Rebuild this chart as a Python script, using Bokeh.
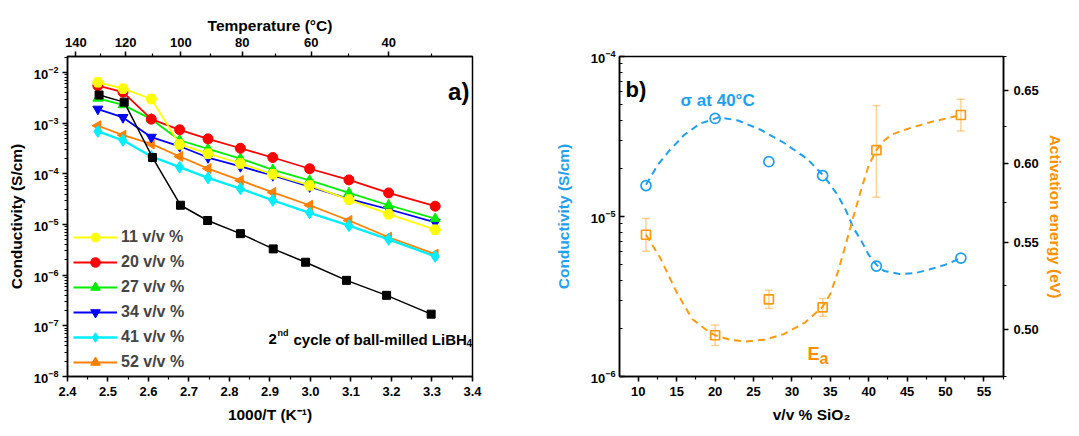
import numpy as np
from bokeh.plotting import figure
from bokeh.layouts import row
from bokeh.models import (Range1d, LinearAxis, FixedTicker, SingleIntervalTicker,
                          PrintfTickFormatter, CustomJSTickFormatter, Label, Legend,
                          LegendItem, Whisker, TeeHead, ColumnDataSource, LogTickFormatter)
from bokeh.embed import file_html
from bokeh.resources import INLINE

FONT = "Liberation Sans"

# ---------------- Panel a) data ----------------
x_a = [2.475, 2.537, 2.607, 2.677, 2.747, 2.827, 2.907, 2.998, 3.095, 3.193, 3.308]
x_black = [2.478, 2.540, 2.610, 2.679, 2.746, 2.827, 2.908, 2.988, 3.089, 3.188, 3.298]
s11 = [6.4e-3, 4.8e-3, 3.0e-3, 3.8e-4, 2.5e-4, 1.6e-4, 9.8e-5, 5.9e-5, 3.1e-5, 1.6e-5, 7.9e-6]
s20 = [5.5e-3, 4.1e-3, 1.2e-3, 7.4e-4, 4.9e-4, 3.2e-4, 2.1e-4, 1.26e-4, 7.6e-5, 4.2e-5, 2.3e-5]
s27 = [3.1e-3, 2.3e-3, 1.2e-3, 4.6e-4, 3.1e-4, 2.0e-4, 1.2e-4, 7.4e-5, 4.2e-5, 2.4e-5, 1.3e-5]
s34 = [1.9e-3, 1.3e-3, 5.3e-4, 3.5e-4, 2.1e-4, 1.4e-4, 9.3e-5, 5.6e-5, 3.2e-5, 2.0e-5, 1.1e-5]
s41 = [6.9e-4, 4.6e-4, 2.2e-4, 1.35e-4, 8.3e-5, 5.1e-5, 3.0e-5, 1.7e-5, 9.5e-6, 5.1e-6, 2.35e-6]
s52 = [8.9e-4, 5.8e-4, 3.9e-4, 2.2e-4, 1.27e-4, 7.4e-5, 4.3e-5, 2.4e-5, 1.2e-5, 5.6e-6, 2.6e-6]
s_libh4 = [3.6e-3, 2.6e-3, 2.1e-4, 2.4e-5, 1.2e-5, 6.6e-6, 3.3e-6, 1.8e-6, 7.9e-7, 4.0e-7, 1.7e-7]
series_labels = ["11 v/v %", "20 v/v %", "27 v/v %", "34 v/v %", "41 v/v %", "52 v/v %"]
temp_major = [140, 120, 100, 80, 60, 40]
temp_minor = [130, 110, 90, 70, 50, 30]

# ---------------- Panel b) data ----------------
ratio = [11, 20, 27, 34, 41, 52]
sigma40 = [1.56e-5, 4.1e-5, 2.2e-5, 1.8e-5, 4.9e-6, 5.5e-6]
Ea = [0.555, 0.497, 0.517, 0.5125, 0.609, 0.633]
Ea_err = [0.010, 0.0056, 0.0052, 0.005, 0.0306, 0.011]
sigma_fit_x = [11, 12.5, 14, 16, 18, 20.5, 23, 26, 29, 32, 34, 35, 36, 37, 38, 39, 40, 41,
               42, 44, 46, 48, 50, 52]
sigma_fit = [1.58e-5, 2.09e-5, 2.57e-5, 3.24e-5, 3.80e-5, 4.17e-5, 3.98e-5, 3.47e-5, 2.88e-5,
             2.29e-5, 1.82e-5, 1.58e-5, 1.35e-5, 1.10e-5, 8.5e-6, 7.1e-6, 5.75e-6, 5.0e-6,
             4.57e-6, 4.37e-6, 4.42e-6, 4.68e-6, 5.0e-6, 5.5e-6]
Ea_fit_x = [11, 12.8, 15, 17, 19, 20, 22, 24, 26.5, 29, 31.7, 34, 35, 36, 37, 38, 39, 40, 41,
            42, 43, 44.5, 46, 48, 50, 52]
Ea_fit = [0.555, 0.5415, 0.521, 0.506, 0.4995, 0.497, 0.4945, 0.4936, 0.4946, 0.4977, 0.504,
          0.5128, 0.520, 0.533, 0.549, 0.566, 0.583, 0.599, 0.609, 0.6155, 0.6195, 0.6225,
          0.625, 0.628, 0.6305, 0.633]

BLUE = "#1E9FF0"
ORANGE = "#FF9A10"


def style_axis(ax, tin=0, tout=5, minin=0, minout=3, standoff=5, label="", label_color="black",
               label_standoff=6):
    ax.axis_line_color = "black"
    ax.axis_line_width = 1.5
    ax.major_tick_line_color = "black"
    ax.minor_tick_line_color = "black"
    ax.major_tick_line_width = 1.5
    ax.minor_tick_line_width = 1.2
    ax.major_tick_in = tin
    ax.major_tick_out = tout
    ax.minor_tick_in = minin
    ax.minor_tick_out = minout
    ax.major_label_text_font = FONT
    ax.major_label_text_font_style = "bold"
    ax.major_label_text_font_size = "13px"
    ax.major_label_text_color = "black"
    ax.major_label_standoff = standoff
    if label:
        ax.axis_label = label
        ax.axis_label_text_font = FONT
        ax.axis_label_text_font_style = "bold"
        ax.axis_label_text_font_size = "15.5px"
        ax.axis_label_text_color = label_color
        ax.axis_label_standoff = label_standoff


def add_text(p, text, x, y, size, color="black", style="bold", align="left",
             baseline="alphabetic", xo=0, yo=0, yr="default"):
    p.add_layout(Label(x=x, y=y, text=text, text_font=FONT, text_font_size=size,
                       text_font_style=style, text_color=color, text_align=align,
                       text_baseline=baseline, x_offset=xo, y_offset=yo, y_range_name=yr))


# ================= Panel a =================
p1 = figure(width=540, height=434, x_range=Range1d(2.4, 3.4001), y_range=Range1d(1e-8, 0.0207),
            y_axis_type="log", output_backend="svg", toolbar_location=None,
            min_border_left=67, min_border_right=68, min_border_top=56, min_border_bottom=58)
p1.grid.visible = False
p1.outline_line_color = "black"
p1.outline_line_width = 1.5
p1.outline_line_alpha = 1.0

bx = p1.below[0]
bx.ticker = SingleIntervalTicker(interval=0.1, num_minor_ticks=2)
bx.formatter = PrintfTickFormatter(format="%.1f")
style_axis(bx, standoff=5, label="1000/T (K\u207b\u00b9)", label_standoff=7)

ly = p1.left[0]
ly.ticker = FixedTicker(ticks=[10.0 ** e for e in range(-8, -1)],
                        minor_ticks=[k * 10.0 ** e for e in range(-8, -1) for k in range(2, 10)])
ly.formatter = LogTickFormatter()
style_axis(ly, standoff=4, label="Conductivity (S/cm)", label_standoff=6)

top = LinearAxis(ticker=FixedTicker(ticks=[1000.0 / (t + 273.15) for t in temp_major],
                                    minor_ticks=[1000.0 / (t + 273.15) for t in temp_minor]),
                 formatter=CustomJSTickFormatter(code="return Math.round(1000/tick - 273.15).toString();"))
style_axis(top, standoff=5, label="Temperature (\u00b0C)", label_standoff=1)
p1.add_layout(top, "above")

colors = ["#FFFF00", "#FF0000", "#00EE00", "#0000FF", "#00EEFF", "#FF8000"]
markers = ["hex", "circle", "triangle", "inverted_triangle", "diamond", "triangle"]
angles = [0, 0, 0, 0, 0, np.pi / 2]
sizes = [11, 10, 10, 10, 12, 10]
widths = [1.8, 1.8, 1.8, 1.8, 2.4, 1.8]
ys = [s11, s20, s27, s34, s41, s52]
order = [5, 4, 3, 2, 1]
renderers = {}
for i in order:
    lr = p1.line(x_a, ys[i], line_color=colors[i], line_width=widths[i])
    sr = p1.scatter(x_a, ys[i], marker=markers[i], size=sizes[i], angle=angles[i],
                    fill_color=colors[i], line_color=colors[i])
    renderers[i] = [lr, sr]
p1.line(x_black, s_libh4, line_color="black", line_width=1.5)
p1.scatter(x_black, s_libh4, marker="square", size=8, fill_color="black", line_color="black")
lr = p1.line(x_a, s11, line_color=colors[0], line_width=widths[0])
sr = p1.scatter(x_a, s11, marker=markers[0], size=sizes[0], fill_color=colors[0], line_color=colors[0])
renderers[0] = [lr, sr]

items = [LegendItem(label=series_labels[i], renderers=renderers[i]) for i in range(6)]
legend = Legend(items=items, location=(4, 0), padding=2, margin=0, spacing=1,
                glyph_height=24, glyph_width=44, label_height=24, label_standoff=4,
                label_text_font=FONT, label_text_font_style="bold", label_text_font_size="16px",
                background_fill_alpha=0, border_line_alpha=0)
p1.add_layout(legend, "center")

add_text(p1, "a)", 3.3926, 4.2e-3, "24px", align="right")
add_text(p1, "2", 2.8963, 5.42e-8, "15px")
add_text(p1, "nd", 2.8963, 5.42e-8, "9px", xo=9, yo=6)
add_text(p1, "cycle of ball-milled LiBH", 2.8963, 5.42e-8, "15px", xo=25)
add_text(p1, "4", 2.8963, 5.42e-8, "10px", xo=198, yo=-4)

# ================= Panel b =================
p2 = figure(width=537, height=434, x_range=Range1d(7.55, 57.55), y_range=Range1d(1e-6, 1e-4),
            y_axis_type="log", output_backend="svg", toolbar_location=None,
            min_border_left=79, min_border_right=74, min_border_top=56, min_border_bottom=58)
p2.grid.visible = False
p2.outline_line_color = "black"
p2.outline_line_width = 1.5
p2.outline_line_alpha = 1.0
p2.extra_y_ranges = {"E": Range1d(0.475, 0.675)}

bx2 = p2.below[0]
bx2.ticker = SingleIntervalTicker(interval=5, num_minor_ticks=2)
style_axis(bx2, standoff=5, label="v/v % SiO\u2082", label_standoff=7)

ly2 = p2.left[0]
ly2.ticker = FixedTicker(ticks=[1e-6, 1e-5, 1e-4],
                         minor_ticks=[k * 10.0 ** e for e in (-6, -5) for k in range(2, 10)])
ly2.formatter = LogTickFormatter()
style_axis(ly2, tin=5, tout=0, minin=3, minout=0, standoff=4, label="Conductivity (S/cm)",
           label_color=BLUE, label_standoff=16)

ry = LinearAxis(y_range_name="E", ticker=SingleIntervalTicker(interval=0.05, num_minor_ticks=2),
                formatter=PrintfTickFormatter(format="%.2f"))
style_axis(ry, standoff=5, label="Activation energy (eV)", label_color="#FF9000", label_standoff=5)
p2.add_layout(ry, "right")

p2.line(sigma_fit_x, sigma_fit, line_color=BLUE, line_width=2, line_dash="7 5")
p2.line(Ea_fit_x, Ea_fit, line_color=ORANGE, line_width=2, line_dash="7 5", y_range_name="E")

err_src = ColumnDataSource(dict(x=ratio, lo=[e - d for e, d in zip(Ea, Ea_err)],
                                hi=[e + d for e, d in zip(Ea, Ea_err)]))
wk = Whisker(source=err_src, base="x", lower="lo", upper="hi", y_range_name="E",
             line_color=ORANGE, line_alpha=0.45, line_width=1.5,
             lower_head=TeeHead(size=8, line_color=ORANGE, line_alpha=0.45, line_width=1.5),
             upper_head=TeeHead(size=8, line_color=ORANGE, line_alpha=0.45, line_width=1.5))
p2.add_layout(wk)

p2.scatter(ratio, sigma40, marker="circle", size=10, fill_alpha=0, line_color=BLUE, line_width=1.7)
p2.scatter(ratio, Ea, marker="square", size=9, fill_alpha=0, line_color=ORANGE, line_width=1.7,
           y_range_name="E")

add_text(p2, "b)", 8.33, 6.22e-5, "22px")
add_text(p2, "\u03c3 at 40\u00b0C", 15.49, 5.3e-5, "17px", color=BLUE)
add_text(p2, "E", 32.03, 0.4869, "18px", color="#FF8C00", yr="E")
add_text(p2, "a", 32.03, 0.4869, "16px", color="#FF8C00", xo=12, yo=-5, yr="E")

layout = row(p1, p2)
open("out.html", "w").write(file_html(layout, INLINE))
